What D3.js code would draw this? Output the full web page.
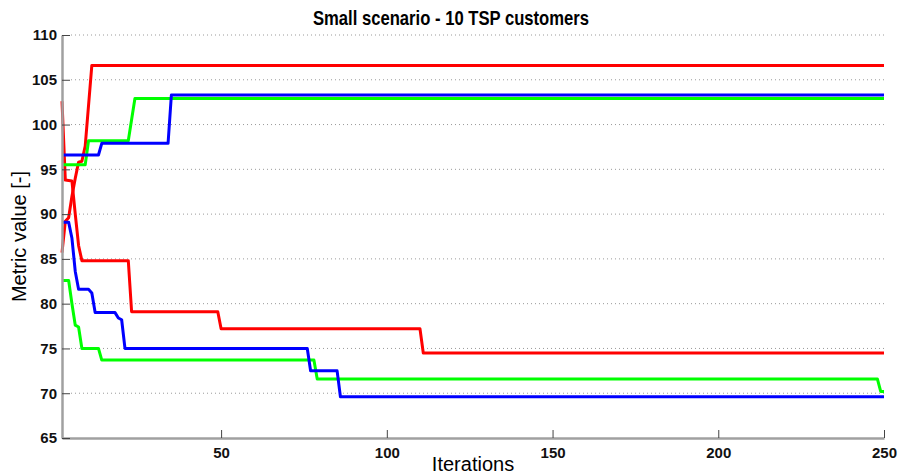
<!DOCTYPE html>
<html>
<head>
<meta charset="utf-8">
<script src="https://cdn.jsdelivr.net/npm/d3@7"></script>
<style>
  body { margin: 0; background: #fff; }
  svg { display: block; font-family: "Liberation Sans", Arial, sans-serif; }
  .grid line { stroke: #9a9a9a; stroke-dasharray: 1,3; }
  .tick-lbl { font-size: 15px; font-weight: bold; fill: #111; }
</style>
</head>
<body>
<div class="chart"></div>
<script>
var width = 898;
var height = 474;
var margin = {top: 35, right: 14, bottom: 36, left: 62};

// iteration / value pairs
var redUp    = [[2,85.7],[3,89.2],[4,89.6],[5,92],[6,94],[7,95.8],[8,95.9],[9,97.6],[11,106.6],[250,106.6]];
var redDown  = [[2,102.6],[3,93.8],[5,93.7],[6,90],[7,86.5],[8,84.8],[22,84.8],[23,79.1],[49,79.1],[50,77.2],[110,77.2],[111,74.5],[250,74.5]];
var greenUp  = [[2,95.5],[9,95.5],[10,98.2],[22,98.2],[24,102.9],[250,102.9]];
var greenDown = [[2,82.6],[4,82.6],[5,80],[6,77.6],[7,77.4],[8,75],[13,75],[14,73.7],[78,73.7],[79,71.6],[248,71.6],[249,70.2],[250,70.2]];
var blueUp   = [[2,96.6],[13,96.6],[14,97.9],[34,97.9],[35,103.3],[250,103.3]];
var blueDown = [[2,89.1],[4,89.1],[5,87.3],[6,83.6],[7,81.6],[10,81.6],[11,81.2],[12,79],[18,79],[19,78.4],[20,78.2],[21,75],[76,75],[77,72.5],[85,72.5],[86,69.6],[250,69.6]];

var xTicks = [50, 100, 150, 200, 250];
var yTicks = [65, 70, 75, 80, 85, 90, 95, 100, 105, 110];

var series = [
  {data: redUp, color: "#ff0000"},
  {data: redDown, color: "#ff0000"},
  {data: greenUp, color: "#00ff00"},
  {data: greenDown, color: "#00ff00"},
  {data: blueUp, color: "#0000ff"},
  {data: blueDown, color: "#0000ff"}
];

var svg = d3.select(".chart").append("svg")
    .attr("width", width)
    .attr("height", height);

var x = d3.scaleLinear().domain([2, 250]).range([margin.left, width - margin.right]);
var y = d3.scaleLinear().domain([65, 110]).range([height - margin.bottom, margin.top]);

// horizontal dotted grid
svg.append("g").attr("class", "grid")
  .selectAll("line")
  .data(yTicks.filter(function(d) { return d > 65; }))
  .enter().append("line")
    .attr("x1", x(2) + 9).attr("x2", width - margin.right)
    .attr("y1", function(d) { return y(d); })
    .attr("y2", function(d) { return y(d); });

// lines
var line = d3.line()
    .x(function(d) { return x(d[0]); })
    .y(function(d) { return y(d[1]); });

svg.append("g")
  .selectAll("path")
  .data(series)
  .enter().append("path")
    .attr("fill", "none")
    .attr("stroke", function(d) { return d.color; })
    .attr("stroke-width", 3)
    .attr("stroke-linejoin", "round")
    .attr("d", function(d) { return line(d.data); });

// axes, ticks pointing inside
var xAxis = svg.append("g")
    .attr("transform", "translate(0," + (height - margin.bottom) + ")")
    .call(d3.axisBottom(x).tickValues(xTicks).tickSizeInner(-8).tickSizeOuter(0).tickPadding(6));
var yAxis = svg.append("g")
    .attr("transform", "translate(" + margin.left + ",0)")
    .call(d3.axisLeft(y).tickValues(yTicks).tickSizeInner(-8).tickSizeOuter(0).tickPadding(5));

[xAxis, yAxis].forEach(function(ax) {
  ax.select(".domain").attr("stroke", "#a0a0a0").attr("stroke-width", 2.5);
  ax.selectAll(".tick line").attr("stroke", "#444").attr("stroke-width", 1);
  ax.selectAll(".tick text").attr("class", "tick-lbl").attr("fill", "#111");
});
xAxis.selectAll(".tick text").attr("dy", "0.9em");

// title and labels
svg.append("text")
    .attr("x", 451).attr("y", 25)
    .attr("text-anchor", "middle")
    .attr("textLength", 276).attr("lengthAdjust", "spacingAndGlyphs")
    .style("font-size", "21px").style("font-weight", "bold")
    .text("Small scenario - 10 TSP customers");

svg.append("text")
    .attr("x", (margin.left + width - margin.right) / 2).attr("y", 471)
    .attr("text-anchor", "middle")
    .style("font-size", "20px")
    .text("Iterations");

svg.append("text")
    .attr("transform", "translate(26," + ((margin.top + height - margin.bottom) / 2) + ") rotate(-90)")
    .attr("text-anchor", "middle")
    .style("font-size", "20px")
    .text("Metric value [-]");
</script>
</body>
</html>
